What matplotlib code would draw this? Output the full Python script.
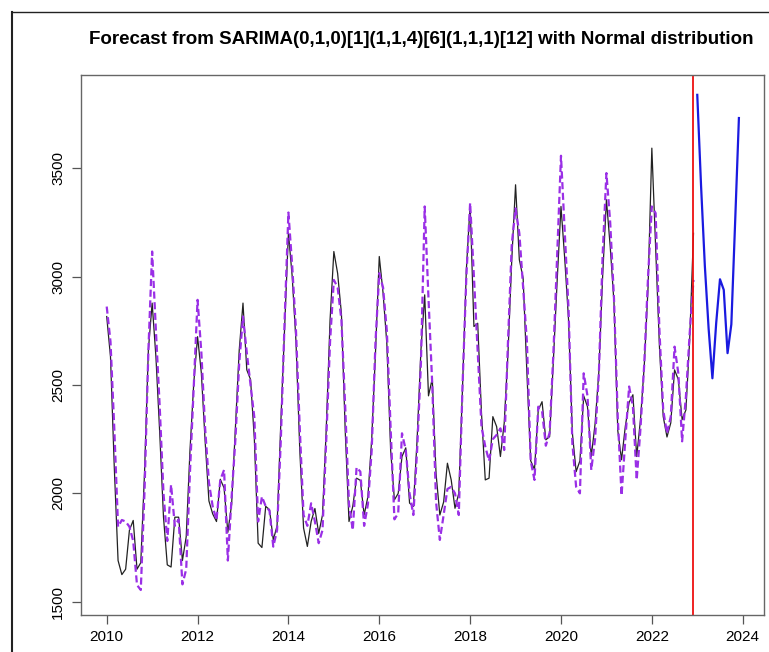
import matplotlib
matplotlib.use("Agg")
import matplotlib.pyplot as plt
from matplotlib.lines import Line2D
import numpy as np

plt.rcParams['font.family'] = ['Liberation Sans', 'DejaVu Sans']

# monthly observed series, Jan 2010 .. Dec 2022
actual = [
    2816, 2630, 2120, 1690, 1625, 1650, 1830, 1875, 1650, 1680, 2100, 2660,  # 2010
    2878, 2630, 2280, 1890, 1670, 1660, 1890, 1890, 1690, 1800, 2200, 2510,  # 2011
    2723, 2555, 2240, 1965, 1905, 1870, 2065, 2025, 1820, 1950, 2300, 2660,  # 2012
    2878, 2570, 2525, 2250, 1770, 1750, 1940, 1925, 1785, 1850, 2330, 2760,  # 2013
    3202, 3000, 2700, 2200, 1840, 1755, 1870, 1930, 1815, 1900, 2300, 2800,  # 2014
    3116, 3015, 2830, 2290, 1870, 1940, 2070, 2060, 1900, 1985, 2250, 2650,  # 2015
    3093, 2925, 2690, 2200, 1970, 2000, 2170, 2210, 1955, 1940, 2250, 2660,  # 2016
    2916, 2450, 2530, 2090, 1900, 1960, 2139, 2062, 1931, 2000, 2493, 3031,  # 2017
    3332, 2770, 2785, 2370, 2062, 2070, 2354, 2308, 2170, 2324, 2647, 3078,  # 2018
    3424, 3078, 2993, 2554, 2150, 2110, 2385, 2423, 2247, 2262, 2616, 2985,  # 2019
    3324, 3080, 2800, 2280, 2100, 2150, 2450, 2400, 2170, 2320, 2560, 3000,  # 2020
    3355, 3140, 2880, 2290, 2155, 2310, 2420, 2455, 2170, 2340, 2590, 2950,  # 2021
    3593, 3140, 2680, 2355, 2260, 2325, 2570, 2525, 2340, 2385, 2710, 3200,  # 2022
]

# fitted values of the model
fitted = [
    2862, 2700, 2300, 1846, 1877, 1870, 1846, 1780, 1577, 1554, 2016, 2655,
    3116, 2750, 2400, 2000, 1780, 2040, 1850, 1880, 1580, 1650, 2100, 2500,
    2893, 2650, 2300, 2050, 1939, 1877, 2062, 2108, 1690, 1985, 2250, 2600,
    2816, 2650, 2500, 2350, 1870, 1985, 1940, 1920, 1754, 1830, 2250, 2800,
    3296, 3050, 2750, 2300, 1900, 1850, 1954, 1870, 1770, 1830, 2250, 2700,
    2985, 2950, 2800, 2400, 1950, 1830, 2120, 2100, 1850, 1950, 2200, 2700,
    3016, 2950, 2750, 2300, 1880, 1908, 2277, 2200, 2000, 1900, 2200, 2600,
    3324, 2900, 2500, 1960, 1785, 1900, 2020, 2030, 2000, 1900, 2500, 3000,
    3340, 3000, 2650, 2308, 2216, 2150, 2250, 2270, 2300, 2200, 2700, 3150,
    3315, 3200, 2950, 2700, 2150, 2062, 2400, 2380, 2220, 2280, 2650, 3100,
    3558, 3200, 2850, 2231, 2030, 2000, 2554, 2450, 2108, 2250, 2550, 3100,
    3478, 3250, 2900, 2350, 1990, 2250, 2493, 2400, 2062, 2300, 2600, 3000,
    3324, 3293, 2754, 2385, 2277, 2354, 2677, 2554, 2240, 2447, 2739, 2985,
]

# point forecast, Jan..Dec 2023
forecast = [3839, 3420, 3050, 2760, 2531, 2786, 2988, 2939, 2647, 2780, 3250, 3732]

start_year = 2010
split_time = 2022 + 11 / 12
xticks = [2010, 2012, 2014, 2016, 2018, 2020, 2022, 2024]
yticks = [1500, 2000, 2500, 3000, 3500]
title = "Forecast from SARIMA(0,1,0)[1](1,1,4)[6](1,1,1)[12] with Normal distribution"

t_hist = start_year + np.arange(len(actual)) / 12
t_fc = start_year + (len(actual) + np.arange(len(forecast))) / 12

fig = plt.figure(figsize=(7.69, 6.52), dpi=100)
ax = fig.add_axes([81 / 769, 1 - 615 / 652, (764 - 81) / 769, (615 - 75) / 652])

ax.plot(t_hist, actual, color='#222222', lw=0.9)
ax.plot(t_hist, fitted, color='#9a2fe6', lw=1.6, ls=(0, (3.2, 1.6)))
ax.plot(t_fc, forecast, color='#1a1ae0', lw=1.6)
ax.axvline(split_time, color='#ee1111', lw=1.3)

ax.set_xlim(2009.434, 2024.469)
ax.set_ylim(1438.6, 3930.6)
ax.set_xticks(xticks)
ax.set_yticks(yticks)
ax.set_xticklabels([str(v) for v in xticks], fontsize=11)
ax.set_yticklabels([str(v) for v in yticks], fontsize=11, rotation=90, va='center')
ax.tick_params(axis='both', direction='out', length=6.5, width=0.9, color='#555555')
ax.tick_params(axis='x', pad=4)
ax.tick_params(axis='y', pad=5)
for sp in ax.spines.values():
    sp.set_color('#666666')
    sp.set_linewidth(1.0)

fig.text(421 / 769, 1 - 40 / 652, title, ha='center', va='center',
         fontsize=13.5, fontweight='bold')

# outer frame of the screenshot
fig.add_artist(Line2D([12 / 769, 12 / 769], [0, 1 - 12 / 652], transform=fig.transFigure,
                      color='#222222', lw=1.5))
fig.add_artist(Line2D([12 / 769, 1], [1 - 12 / 652, 1 - 12 / 652], transform=fig.transFigure,
                      color='#222222', lw=1.0))

fig.savefig("out.png", dpi=100)
